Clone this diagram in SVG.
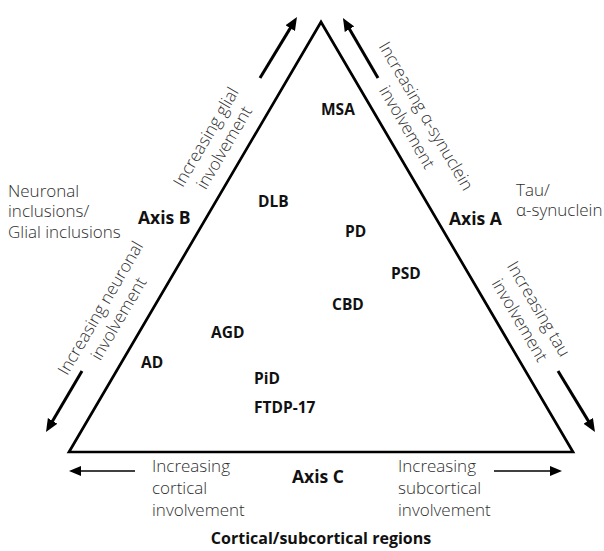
<svg xmlns="http://www.w3.org/2000/svg" width="604" height="551" viewBox="0 0 604 551">
  <style>
    .note { font-family: "Open Sans", "Liberation Sans", sans-serif; font-weight: 300; font-size: 17px; fill: #2e2e2e; }
    .axis { font-family: "Open Sans", "Liberation Sans", sans-serif; font-weight: 700; font-size: 17.5px; fill: #111; }
    .dis { font-family: "Open Sans", "Liberation Sans", sans-serif; font-weight: 700; font-size: 15.5px; fill: #111; }
    .edge { fill: none; stroke: #000; stroke-width: 2.7; stroke-linejoin: miter; }
    .thick { fill: none; stroke: #000; stroke-width: 3; }
    .thin { fill: none; stroke: #000; stroke-width: 1.6; }
  </style>
  <defs>
    <marker id="headThick" markerUnits="userSpaceOnUse" markerWidth="14" markerHeight="12" refX="3" refY="6" orient="auto">
      <path d="M0,0.5 L13,6 L0,11.5 z" fill="#000"/>
    </marker>
    <marker id="headThin" markerUnits="userSpaceOnUse" markerWidth="13" markerHeight="11" refX="2" refY="5.5" orient="auto">
      <path d="M0,0.5 L12,5.5 L0,10.5 z" fill="#000"/>
    </marker>
  </defs>

  <rect width="604" height="551" fill="#fff"/>

  <!-- main triangle -->
  <g id="triangle">
    <polygon class="edge" points="69,452 321,22 573,452"/>
  </g>

  <!-- direction arrows along the axes -->
  <g id="connectors">
    <line class="thick" x1="260" y1="78" x2="291.8" y2="25.6" marker-end="url(#headThick)"/>
    <line class="thick" x1="378" y1="78" x2="348" y2="26.6" marker-end="url(#headThick)"/>
    <line class="thick" x1="82" y1="371" x2="51.1" y2="423.4" marker-end="url(#headThick)"/>
    <line class="thick" x1="558" y1="371" x2="589.8" y2="423.4" marker-end="url(#headThick)"/>
    <line class="thin" x1="135" y1="471" x2="79" y2="471" marker-end="url(#headThin)"/>
    <line class="thin" x1="494" y1="471" x2="552" y2="471" marker-end="url(#headThin)"/>
  </g>

  <!-- axis captions along the edges -->
  <g id="label-glial" transform="translate(211,140) rotate(-59.6)">
    <text class="note" text-anchor="middle"><tspan x="0" y="0">Increasing glial</tspan><tspan x="0" y="21">involvement</tspan></text>
  </g>
  <g id="label-neuronal" transform="translate(105.5,311) rotate(-59.6)">
    <text class="note" text-anchor="middle"><tspan x="0" y="0">Increasing neuronal</tspan><tspan x="0" y="21">involvement</tspan></text>
  </g>
  <g id="label-synuclein" transform="translate(421,119) rotate(59.6)">
    <text class="note" text-anchor="middle"><tspan x="0" y="0">Increasing α-synuclein</tspan><tspan x="0" y="22">involvement</tspan></text>
  </g>
  <g id="label-tau" transform="translate(533.6,312) rotate(59.6)">
    <text class="note" text-anchor="middle"><tspan x="0" y="0">Increasing tau</tspan><tspan x="0" y="22">involvement</tspan></text>
  </g>

  <!-- side captions -->
  <g id="inclusions">
    <text class="note"><tspan x="8" y="197">Neuronal</tspan><tspan x="8" y="217">inclusions/</tspan><tspan x="8" y="238">Glial inclusions</tspan></text>
  </g>
  <g id="tau-synuclein">
    <text class="note"><tspan x="516" y="196">Tau/</tspan><tspan x="516" y="216">α-synuclein</tspan></text>
  </g>
  <g id="cortical">
    <text class="note"><tspan x="152" y="472">Increasing</tspan><tspan x="152" y="494">cortical</tspan><tspan x="152" y="516">involvement</tspan></text>
  </g>
  <g id="subcortical">
    <text class="note"><tspan x="398" y="472">Increasing</tspan><tspan x="398" y="494">subcortical</tspan><tspan x="398" y="516">involvement</tspan></text>
  </g>

  <!-- axis names -->
  <g id="axis-a"><text class="axis" x="449" y="225">Axis A</text></g>
  <g id="axis-b"><text class="axis" x="138" y="224">Axis B</text></g>
  <g id="axis-c"><text class="axis" x="292" y="483">Axis C</text></g>
  <g id="regions"><text class="axis" x="321" y="544" text-anchor="middle" style="font-size:16px">Cortical/subcortical regions</text></g>

  <!-- diseases -->
  <g id="msa"><text class="dis" x="321" y="115">MSA</text></g>
  <g id="dlb"><text class="dis" x="258" y="207">DLB</text></g>
  <g id="pd"><text class="dis" x="345" y="237">PD</text></g>
  <g id="psd"><text class="dis" x="391" y="279">PSD</text></g>
  <g id="cbd"><text class="dis" x="332" y="310">CBD</text></g>
  <g id="agd"><text class="dis" x="211" y="338">AGD</text></g>
  <g id="ad"><text class="dis" x="141" y="368">AD</text></g>
  <g id="pid"><text class="dis" x="254" y="384">PiD</text></g>
  <g id="ftdp"><text class="dis" x="254" y="413">FTDP-17</text></g>
</svg>
